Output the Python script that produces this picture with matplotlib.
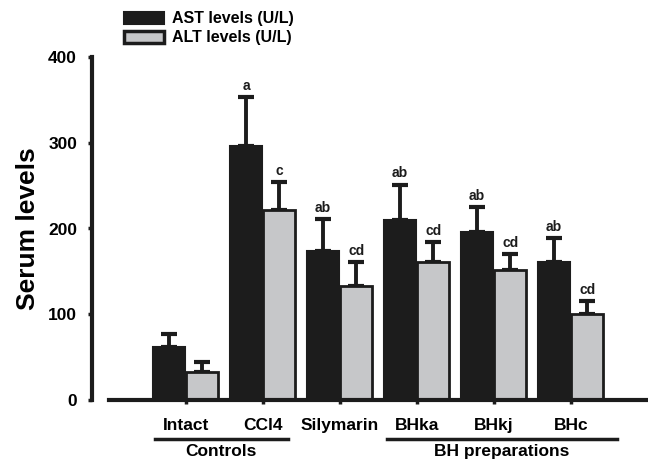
import matplotlib
matplotlib.use("Agg")
import matplotlib.pyplot as plt
import matplotlib.transforms as mtransforms
from matplotlib.patches import Patch
import numpy as np

plt.rcParams['font.family'] = ['Liberation Sans', 'DejaVu Sans']
plt.rcParams['font.weight'] = 'bold'

# data
groups = ["Intact", "CCl4", "Silymarin", "BHka", "BHkj", "BHc"]
ast_mean = [62, 296, 174, 210, 196, 161]
ast_err = [15, 57, 37, 41, 29, 28]
alt_mean = [33, 221, 133, 161, 152, 100]
alt_err = [11, 33, 28, 23, 18, 15]
ast_marks = ["", "a", "ab", "ab", "ab", "ab"]
alt_marks = ["", "c", "cd", "cd", "cd", "cd"]
yticks = [0, 100, 200, 300, 400]

dark = "#1c1c1c"
light = "#c6c7c9"

fig = plt.figure(figsize=(6.48, 4.65), dpi=100)
ax = fig.add_axes([109/648, 65/465, 539/648, 343/465])

# spines first (set_position resets the tick labels)
for s in ['top', 'right']:
    ax.spines[s].set_visible(False)
ax.spines['left'].set_position(('outward', 12))
for s in ['left', 'bottom']:
    ax.spines[s].set_linewidth(3)
    ax.spines[s].set_color(dark)

x = np.arange(len(groups))
w = 0.42

ax.bar(x - 0.43, ast_mean, width=w, align='edge', color=dark, edgecolor=dark,
       linewidth=1.5, zorder=2, label="AST levels (U/L)")
ax.bar(x + 0.0, alt_mean, width=w, align='edge', color=light, edgecolor=dark,
       linewidth=2, zorder=2, label="ALT levels (U/L)")

err_kw = dict(fmt='none', ecolor=dark, elinewidth=2.8, capsize=5.5, capthick=3, zorder=1)
ax.errorbar(x - 0.43 + w/2, ast_mean, yerr=[np.zeros(len(x)), ast_err], **err_kw)
ax.errorbar(x + w/2, alt_mean, yerr=[np.zeros(len(x)), alt_err], **err_kw)

for i in range(len(groups)):
    if ast_marks[i]:
        ax.text(x[i] - 0.43 + w/2, ast_mean[i] + ast_err[i] + 5, ast_marks[i],
                ha='center', va='bottom', fontsize=10, fontweight='bold', color=dark)
    if alt_marks[i]:
        ax.text(x[i] + w/2, alt_mean[i] + alt_err[i] + 5, alt_marks[i],
                ha='center', va='bottom', fontsize=10, fontweight='bold', color=dark)

ax.set_xlim(-1, 6)
ax.set_ylim(0, 400)
ax.set_yticks(yticks)
ax.set_yticklabels([str(v) for v in yticks])
ax.set_xticks(x)
ax.set_xticklabels(groups)
ax.tick_params(axis='x', length=3, width=2.5, pad=10, color=dark, labelsize=12.5)
ax.tick_params(axis='y', length=3, width=2.5, pad=8, color=dark, labelsize=12.5)
for lab in ax.get_xticklabels() + ax.get_yticklabels():
    lab.set_fontweight('bold')

ax.set_ylabel("Serum levels", fontsize=19, fontweight='bold', labelpad=6)

# group brackets under the categories
trans = mtransforms.blended_transform_factory(ax.transData, ax.transAxes)
ax.plot([-0.40, 1.32], [-0.114, -0.114], color=dark, lw=2.5, transform=trans, clip_on=False)
ax.plot([2.61, 5.60], [-0.114, -0.114], color=dark, lw=2.5, transform=trans, clip_on=False)
ax.text(0.46, -0.128, "Controls", transform=trans, ha='center', va='top',
        fontsize=12.5, fontweight='bold')
ax.text(4.1, -0.128, "BH preparations", transform=trans, ha='center', va='top',
        fontsize=12.5, fontweight='bold')

handles = [Patch(facecolor=dark, edgecolor=dark, linewidth=1.5),
           Patch(facecolor=light, edgecolor=dark, linewidth=2.5)]
fig.legend(handles, ["AST levels (U/L)", "ALT levels (U/L)"], loc='upper left',
           bbox_to_anchor=(113/648, 1.0), frameon=False,
           handlelength=2.5, handleheight=0.8, labelspacing=0.25, handletextpad=0.5,
           borderaxespad=0.3, prop={'weight': 'bold', 'size': 11.5})

fig.savefig("out.png", dpi=100)
